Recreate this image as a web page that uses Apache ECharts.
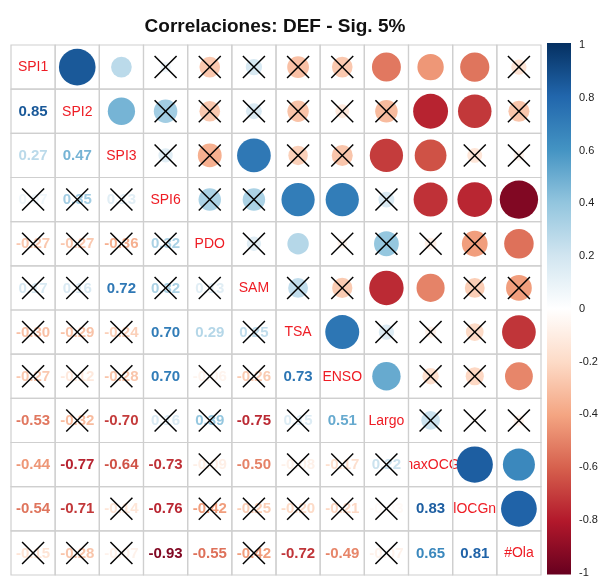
<!DOCTYPE html>
<html>
<head>
<meta charset="utf-8">
<script src="https://cdn.jsdelivr.net/npm/echarts@6/dist/echarts.min.js"></script>
<style>
  html, body { margin: 0; padding: 0; background: #fff; }
  #chart { width: 604px; height: 578px; }
</style>
</head>
<body>
<div id="chart"></div>
<script>
// Variable names (diagonal labels)
const vars = ['SPI1', 'SPI2', 'SPI3', 'SPI6', 'PDO', 'SAM', 'TSA', 'ENSO', 'Largo', 'maxOCG', 'lOCGn', '#Ola'];

// Lower-triangle correlations, one row per variable (columns before the diagonal)
const corrSPI2   = [0.85];
const corrSPI3   = [0.27, 0.47];
const corrSPI6   = [0.07, 0.35, 0.13];
const corrPDO    = [-0.27, -0.27, -0.36, 0.32];
const corrSAM    = [0.17, 0.16, 0.72, 0.32, 0.13];
const corrTSA    = [-0.30, -0.29, -0.24, 0.70, 0.29, 0.25];
const corrENSO   = [-0.27, -0.12, -0.28, 0.70, -0.06, -0.26, 0.73];
const corrLargo  = [-0.53, -0.32, -0.70, 0.16, 0.39, -0.75, 0.15, 0.51];
const corrMaxOCG = [-0.44, -0.77, -0.64, -0.73, -0.09, -0.50, -0.08, -0.17, 0.22];
const corrLOCGn  = [-0.54, -0.71, -0.14, -0.76, -0.42, -0.25, -0.20, -0.21, -0.03, 0.83];
const corrOla    = [-0.15, -0.28, -0.07, -0.93, -0.55, -0.42, -0.72, -0.49, -0.07, 0.65, 0.81];

// 1 = not significant at the 5% level (crossed out)
const nsSPI2   = [0];
const nsSPI3   = [0, 0];
const nsSPI6   = [1, 1, 1];
const nsPDO    = [1, 1, 1, 1];
const nsSAM    = [1, 1, 0, 1, 1];
const nsTSA    = [1, 1, 1, 0, 0, 1];
const nsENSO   = [1, 1, 1, 0, 1, 1, 0];
const nsLargo  = [0, 1, 0, 1, 1, 0, 1, 0];
const nsMaxOCG = [0, 0, 0, 0, 1, 0, 1, 1, 1];
const nsLOCGn  = [0, 0, 1, 0, 1, 1, 1, 1, 1, 0];
const nsOla    = [1, 1, 1, 0, 0, 1, 0, 0, 1, 0, 0];

// Colour bar ticks
const barTicks = [-1, -0.8, -0.6, -0.4, -0.2, 0, 0.2, 0.4, 0.6, 0.8, 1];

const corrRows = [[], corrSPI2, corrSPI3, corrSPI6, corrPDO, corrSAM, corrTSA, corrENSO, corrLargo, corrMaxOCG, corrLOCGn, corrOla];
const nsRows   = [[], nsSPI2, nsSPI3, nsSPI6, nsPDO, nsSAM, nsTSA, nsENSO, nsLargo, nsMaxOCG, nsLOCGn, nsOla];

// RdBu diverging palette, from -1 to 1
const palette = ['#67001F', '#B2182B', '#D6604D', '#F4A582', '#FDDBC7', '#FFFFFF',
                 '#D1E5F0', '#92C5DE', '#4393C3', '#2166AC', '#053061'];

function hexToRgb(h) {
  return [parseInt(h.slice(1, 3), 16), parseInt(h.slice(3, 5), 16), parseInt(h.slice(5, 7), 16)];
}
function colorOf(r) {
  const t = (Math.max(-1, Math.min(1, r)) + 1) / 2 * (palette.length - 1);
  const i = Math.min(palette.length - 2, Math.floor(t));
  const f = t - i;
  const a = hexToRgb(palette[i]), b = hexToRgb(palette[i + 1]);
  const c = a.map((v, k) => Math.round(v + (b[k] - v) * f));
  return 'rgb(' + c.join(',') + ')';
}

const lowerData = [], upperData = [], diagData = [], cellData = [];
for (let i = 0; i < vars.length; i++) {
  diagData.push([i, i]);
  for (let j = 0; j < vars.length; j++) cellData.push([j, i]);
  for (let j = 0; j < i; j++) {
    const r = corrRows[i][j], ns = nsRows[i][j];
    lowerData.push([j, i, r, ns]);   // number below the diagonal
    upperData.push([i, j, r, ns]);   // circle above the diagonal
  }
}

const FONT = '"Liberation Sans", Arial, Helvetica, sans-serif';

function crossLines(cx, cy, h) {
  const s = { stroke: '#000', lineWidth: 1.5 };
  return [
    { type: 'line', shape: { x1: cx - h, y1: cy - h, x2: cx + h, y2: cy + h }, style: s },
    { type: 'line', shape: { x1: cx - h, y1: cy + h, x2: cx + h, y2: cy - h }, style: s }
  ];
}

const chart = echarts.init(document.getElementById('chart'), null, { renderer: 'canvas' });

chart.setOption({
  animation: false,
  backgroundColor: '#fff',
  title: {
    text: 'Correlaciones: DEF - Sig. 5%',
    left: 270, top: 12, textAlign: 'center',
    textStyle: { fontFamily: FONT, fontSize: 19, fontWeight: 'bold', color: '#111' }
  },
  grid: [
    { left: 11, top: 45, width: 530, height: 530 },
    { left: 547, top: 45, width: 24, height: 531 }
  ],
  xAxis: [
    { type: 'category', data: vars, show: false, gridIndex: 0 },
    { type: 'value', min: 0, max: 1, show: false, gridIndex: 1 }
  ],
  yAxis: [
    { type: 'category', data: vars, inverse: true, show: false, gridIndex: 0 },
    {
      type: 'value', gridIndex: 1, position: 'right',
      min: barTicks[0], max: barTicks[barTicks.length - 1], interval: 0.2,
      axisLine: { show: false },
      axisTick: { show: true, length: 4, lineStyle: { color: '#444', width: 1 } },
      axisLabel: { color: '#222', fontSize: 11, fontFamily: FONT, margin: 8,
                   formatter: v => String(Math.round(v * 10) / 10) },
      splitLine: { show: false }
    }
  ],
  series: [
    {
      // diagonal variable names
      type: 'custom', xAxisIndex: 0, yAxisIndex: 0, z: 1,
      data: diagData,
      renderItem: (params, api) => {
        const c = api.coord([api.value(0), api.value(1)]);
        return {
          type: 'text',
          style: { text: vars[api.value(0)], x: c[0], y: c[1] + 0.5, fill: '#ee1c24',
                   font: '14px ' + FONT, textAlign: 'center', textVerticalAlign: 'middle' }
        };
      }
    },
    {
      // coefficients below the diagonal
      type: 'custom', xAxisIndex: 0, yAxisIndex: 0, z: 2,
      data: lowerData,
      renderItem: (params, api) => {
        const c = api.coord([api.value(0), api.value(1)]);
        const s = api.size([1, 1]);
        const r = api.value(2);
        const kids = [
          { type: 'rect', shape: { x: c[0] - s[0] / 2, y: c[1] - s[1] / 2, width: s[0], height: s[1] },
            style: { fill: '#fff' } },
          { type: 'text', style: { text: r.toFixed(2), x: c[0], y: c[1] + 0.5, fill: colorOf(r),
            font: 'bold 15px ' + FONT, textAlign: 'center', textVerticalAlign: 'middle' } }
        ];
        if (api.value(3)) kids.push(...crossLines(c[0], c[1], 11));
        return { type: 'group', children: kids };
      }
    },
    {
      // circles above the diagonal, area proportional to |r|
      type: 'custom', xAxisIndex: 0, yAxisIndex: 0, z: 3,
      data: upperData,
      renderItem: (params, api) => {
        const c = api.coord([api.value(0), api.value(1)]);
        const s = api.size([1, 1]);
        const r = api.value(2);
        const rad = Math.sqrt(Math.abs(r)) * s[0] * 0.45;
        const kids = [
          { type: 'circle', shape: { cx: c[0], cy: c[1], r: rad }, style: { fill: colorOf(r) } }
        ];
        if (api.value(3)) kids.push(...crossLines(c[0], c[1], 11));
        return { type: 'group', children: kids };
      }
    },
    {
      // cell grid
      type: 'custom', xAxisIndex: 0, yAxisIndex: 0, z: 4,
      data: cellData, silent: true,
      renderItem: (params, api) => {
        const c = api.coord([api.value(0), api.value(1)]);
        const s = api.size([1, 1]);
        return { type: 'rect', shape: { x: c[0] - s[0] / 2, y: c[1] - s[1] / 2, width: s[0], height: s[1] },
                 style: { fill: 'none', stroke: '#cfcfcf', lineWidth: 1.2 } };
      }
    },
    {
      // colour bar
      type: 'custom', xAxisIndex: 1, yAxisIndex: 1, z: 1,
      data: [[0, barTicks[barTicks.length - 1], 1, barTicks[0]]],
      renderItem: (params, api) => {
        const p0 = api.coord([api.value(0), api.value(1)]);
        const p1 = api.coord([api.value(2), api.value(3)]);
        const stops = palette.map((col, k) => ({ offset: 1 - k / (palette.length - 1), color: col }))
                             .sort((a, b) => a.offset - b.offset);
        return {
          type: 'rect',
          shape: { x: p0[0], y: p0[1] - 2, width: p1[0] - p0[0], height: p1[1] - p0[1] + 4 },
          style: { fill: new echarts.graphic.LinearGradient(0, 0, 0, 1, stops) }
        };
      }
    }
  ]
});
</script>
</body>
</html>
